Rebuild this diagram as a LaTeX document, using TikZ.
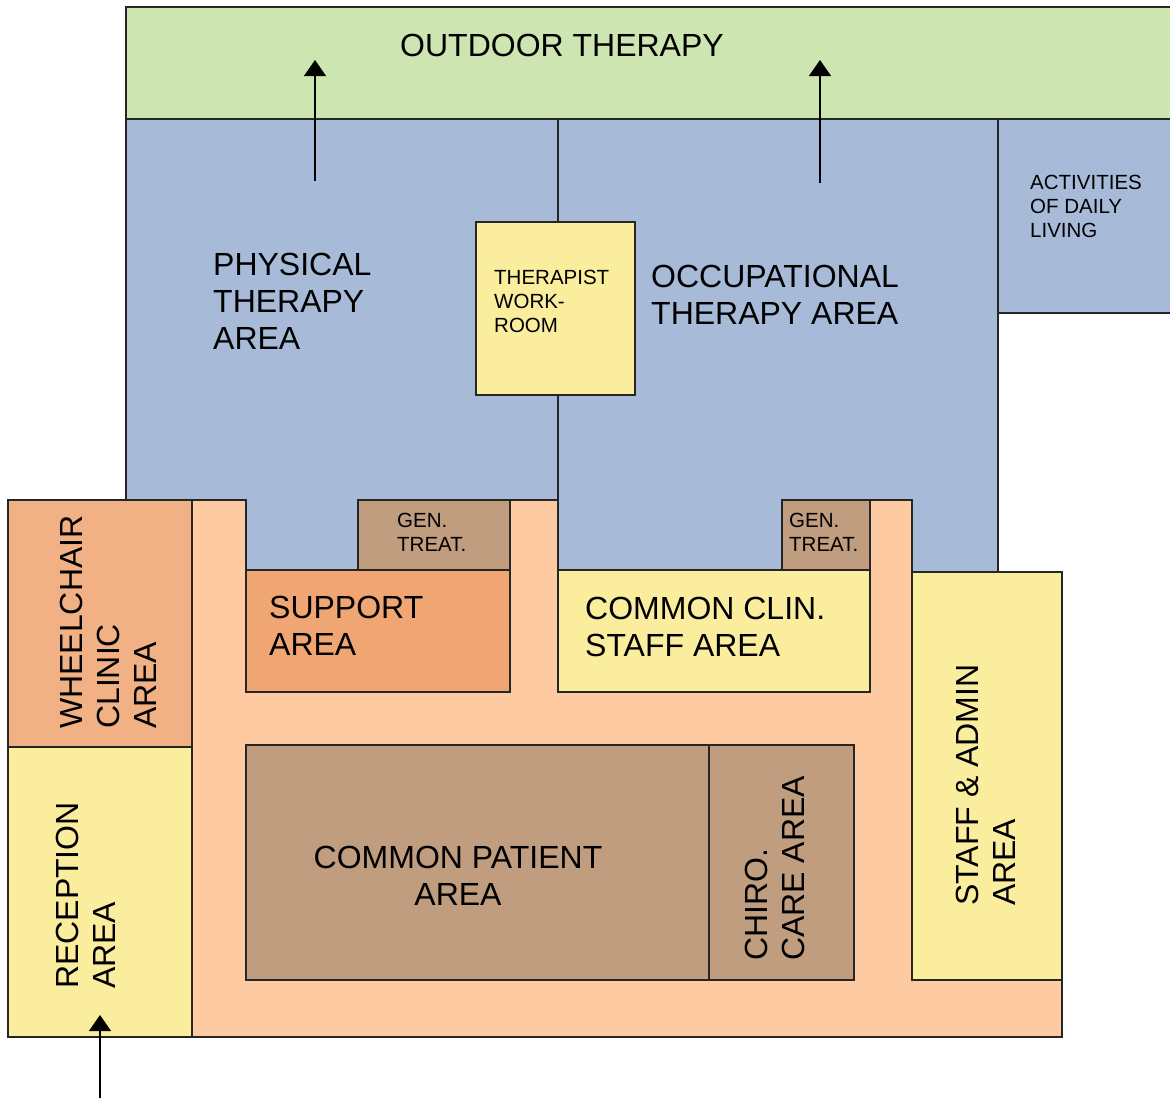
\documentclass[tikz,border=0pt]{standalone}
\usepackage{fontspec}
\setmainfont{Liberation Sans}
\usetikzlibrary{arrows.meta}

\definecolor{outgreen}{RGB}{205,230,177}
\definecolor{therblue}{RGB}{167,187,217}
\definecolor{hallpeach}{RGB}{253,202,161}
\definecolor{chairorange}{RGB}{242,177,132}
\definecolor{suporange}{RGB}{240,166,114}
\definecolor{roomyellow}{RGB}{250,238,158}
\definecolor{treatbrown}{RGB}{192,157,127}

\begin{document}
\begin{tikzpicture}[x=1pt, y=-1pt,
    room/.style={draw=black!85, line width=1.3pt},
    biglbl/.style={inner sep=0pt, align=left, font=\fontsize{32}{37}\selectfont},
    smalllbl/.style={inner sep=0pt, align=left, font=\fontsize{20.5}{24}\selectfont},
    goout/.style={line width=1.2pt, -{Triangle[length=16pt, width=22pt]}}]
\useasboundingbox (0,0) rectangle (1170,1100);
% outdoor and therapy wing
\draw[room, fill=outgreen] (126,7) rectangle (1185,119);
\draw[room, fill=therblue] (126,119) rectangle (998,572);
\draw[room, fill=therblue] (998,119) rectangle (1185,313);
\draw[room] (558,119) -- (558,222);
\draw[room] (558,395) -- (558,500);
\draw[room, fill=roomyellow] (476,222) rectangle (635,395);
% corridor
\draw[room, fill=hallpeach] (192,500) -- (246,500) -- (246,692) -- (510,692) -- (510,500)
    -- (558,500) -- (558,692) -- (870,692) -- (870,500) -- (912,500) -- (912,572)
    -- (1062,572) -- (1062,1037) -- (192,1037) -- cycle;
% rooms along the corridor
\draw[room, fill=chairorange] (8,500) rectangle (192,747);
\draw[room, fill=roomyellow] (8,747) rectangle (192,1037);
\draw[room, fill=treatbrown] (358,500) rectangle (510,570);
\draw[room, fill=suporange] (246,570) rectangle (510,692);
\draw[room, fill=treatbrown] (782,500) rectangle (870,570);
\draw[room, fill=roomyellow] (558,570) rectangle (870,692);
\draw[room, fill=roomyellow] (912,572) rectangle (1062,980);
\draw[room, fill=treatbrown] (246,745) rectangle (709,980);
\draw[room, fill=treatbrown] (709,745) rectangle (854,980);

% labels
\node[biglbl] (outdoor) at (562,45) {OUTDOOR THERAPY};
\node[biglbl, anchor=west] (physical) at (213,301) {PHYSICAL\\THERAPY\\AREA};
\node[smalllbl, anchor=west] (workroom) at (494,301) {THERAPIST\\WORK-\\ROOM};
\node[biglbl, anchor=west] (occupational) at (651,295) {OCCUPATIONAL\\THERAPY AREA};
\node[smalllbl, anchor=west] (daily) at (1030,206) {ACTIVITIES\\OF DAILY\\LIVING};
\node[smalllbl, anchor=west] (gentreatA) at (397,532) {GEN.\\TREAT.};
\node[smalllbl, anchor=west] (gentreatB) at (789,532) {GEN.\\TREAT.};
\node[biglbl, anchor=west] (support) at (269,626) {SUPPORT\\AREA};
\node[biglbl, anchor=west] (clinstaff) at (585,627) {COMMON CLIN.\\STAFF AREA};
\node[biglbl, anchor=west, rotate=90] (wheelchair) at (108,729) {WHEELCHAIR\\CLINIC\\AREA};
\node[biglbl, anchor=west, rotate=90] (reception) at (86,989) {RECEPTION\\AREA};
\node[biglbl, align=center] (patient) at (458,876) {COMMON PATIENT\\AREA};
\node[biglbl, anchor=west, rotate=90] (chiro) at (775,961) {CHIRO.\\CARE AREA};
\node[biglbl, anchor=west, rotate=90] (staffadmin) at (986,906) {STAFF \& ADMIN\\AREA};

% ways out
\coordinate (ptdoor) at (315,181);
\coordinate (ptout) at (315,60);
\coordinate (otdoor) at (820,183);
\coordinate (otout) at (820,60);
\coordinate (street) at (100,1098);
\coordinate (entry) at (100,1015);
\draw[goout] (ptdoor) -- (ptout);
\draw[goout] (otdoor) -- (otout);
\draw[goout] (street) -- (entry);
\end{tikzpicture}
\end{document}
